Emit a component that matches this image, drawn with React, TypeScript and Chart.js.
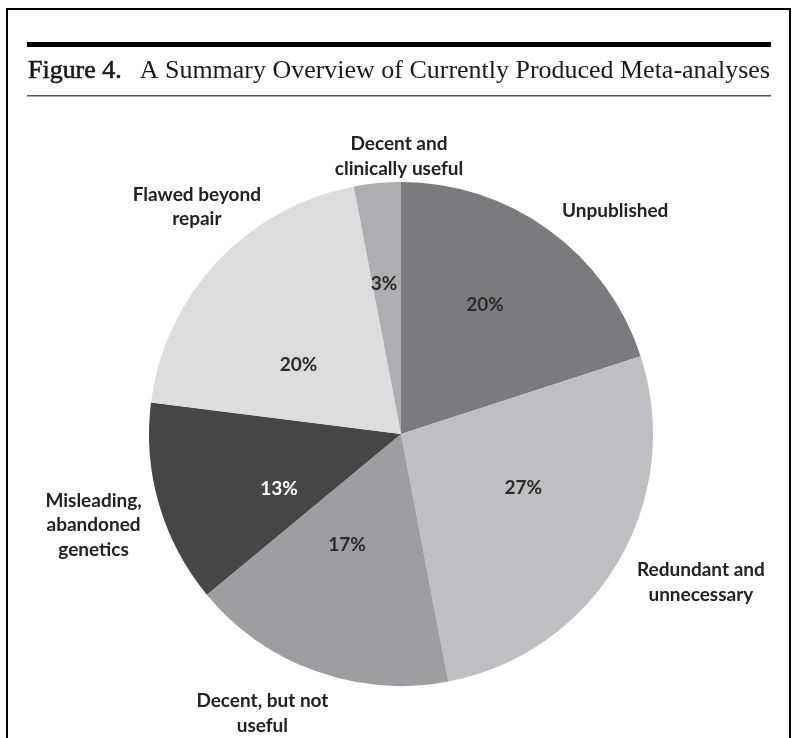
import React, { useEffect, useRef } from "react";
import { Chart, registerables } from "chart.js";

Chart.register(...registerables);

const categories: string[][] = [
  ["Unpublished"],
  ["Redundant and", "unnecessary"],
  ["Decent, but not", "useful"],
  ["Misleading,", "abandoned", "genetics"],
  ["Flawed beyond", "repair"],
  ["Decent and", "clinically useful"],
];
const shares: number[] = [20, 27, 17, 13, 20, 3];
const percentLabels: string[] = ["20%", "27%", "17%", "13%", "20%", "3%"];

const colors = ["#7a7b7f", "#bebfc2", "#9d9ea2", "#464648", "#dcdddf", "#adaeb1"];
const pctColors = ["#2b2b2b", "#2b2b2b", "#2b2b2b", "#ffffff", "#2b2b2b", "#2b2b2b"];
// label placement inside slices: fraction along the arc, fraction of radius
const pctPlace: [number, number][] = [
  [0.46, 0.61],
  [0.43, 0.53],
  [0.6, 0.49],
  [0.33, 0.53],
  [0.37, 0.49],
  [0.4, 0.6],
];
// category label placement relative to center, in radius units (first line center)
const catPlace: [number, number][] = [
  [0.85, -0.885],
  [1.19, 0.54],
  [-0.55, 1.06],
  [-1.22, 0.265],
  [-0.81, -0.95],
  [-0.008, -1.15],
];

const TITLE_BOLD = "Figure 4.";
const TITLE_REST = "A Summary Overview of Currently Produced Meta-analyses";

const decorPlugin = {
  id: "decor",
  afterDraw(chart: any) {
    const ctx = chart.ctx as CanvasRenderingContext2D;
    const meta = chart.getDatasetMeta(0);
    ctx.save();
    // frame
    ctx.strokeStyle = "#000";
    ctx.lineWidth = 2;
    ctx.beginPath();
    ctx.moveTo(7, 760);
    ctx.lineTo(7, 9);
    ctx.lineTo(790, 9);
    ctx.lineTo(790, 760);
    ctx.stroke();
    // rules
    ctx.fillStyle = "#000";
    ctx.fillRect(27, 42, 744, 5);
    ctx.fillStyle = "#555";
    ctx.fillRect(27, 95, 744, 1.5);
    // title
    ctx.fillStyle = "#1a1a1a";
    ctx.strokeStyle = "#1a1a1a";
    ctx.textBaseline = "alphabetic";
    ctx.textAlign = "left";
    const fReg = "26px 'Liberation Serif', serif";
    ctx.font = fReg;
    const wb = ctx.measureText(TITLE_BOLD).width;
    const wr = ctx.measureText(TITLE_REST).width;
    const gap = 18;
    const total = wb + gap + wr;
    const target = 742;
    const sx = target / total;
    ctx.save();
    ctx.translate(28, 78);
    ctx.scale(sx, 1);
    ctx.font = fReg;
    ctx.fillText(TITLE_BOLD, 0, 0);
    ctx.lineWidth = 0.6;
    ctx.strokeText(TITLE_BOLD, 0, 0);
    ctx.fillText(TITLE_REST, wb + gap, 0);
    ctx.restore();

    // labels
    const arc0 = meta.data[0];
    const cx = arc0.x;
    const cy = arc0.y;
    const R = arc0.outerRadius;
    ctx.textAlign = "center";
    ctx.textBaseline = "middle";
    ctx.font = "bold 19px Lato, 'Open Sans', sans-serif";
    meta.data.forEach((arc: any, i: number) => {
      const [t, r] = pctPlace[i];
      const a = arc.startAngle + (arc.endAngle - arc.startAngle) * t;
      ctx.fillStyle = pctColors[i];
      ctx.fillText(percentLabels[i], cx + Math.cos(a) * R * r, cy + Math.sin(a) * R * r);
    });
    ctx.fillStyle = "#222";
    categories.forEach((lines, i) => {
      const [dx, dy] = catPlace[i];
      lines.forEach((ln, j) => {
        ctx.fillText(ln, cx + dx * R, cy + dy * R + j * 24.5);
      });
    });
    ctx.restore();
  },
};

export default function App() {
  const ref = useRef<HTMLCanvasElement | null>(null);
  useEffect(() => {
    if (!ref.current) return;
    const chart = new Chart(ref.current, {
      type: "pie",
      data: {
        labels: categories.map((c) => c.join(" ")),
        datasets: [
          {
            data: shares,
            backgroundColor: colors,
            borderWidth: 0,
          },
        ],
      },
      options: {
        responsive: false,
        animation: false,
        layout: { padding: { left: 149, right: 144, top: 182, bottom: 52 } },
        plugins: {
          legend: { display: false },
          tooltip: { enabled: false },
        },
      },
      plugins: [decorPlugin],
    });
    return () => chart.destroy();
  }, []);
  return (
    <div style={{ position: "fixed", left: 0, top: 0, width: 797, height: 738, background: "#fff" }}>
      <canvas ref={ref} width={797} height={738} style={{ width: 797, height: 738 }} />
    </div>
  );
}
